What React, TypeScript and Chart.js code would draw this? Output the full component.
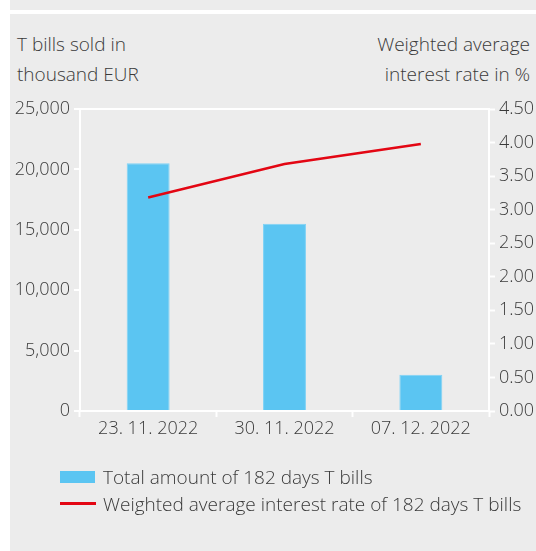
import React, { useEffect, useRef } from "react";
import { Chart, registerables } from "chart.js";

Chart.register(...registerables);

const categories = ["23. 11. 2022", "30. 11. 2022", "07. 12. 2022"];
const amounts = [20500, 15500, 3000];
const rates = [3.18, 3.68, 3.98];
const leftAxisTitle = ["T bills sold in", "thousand EUR"];
const rightAxisTitle = ["Weighted average", "interest rate in %"];
const legendLabels = [
  "Total amount of 182 days T bills",
  "Weighted average interest rate of 182 days T bills",
];

const BAR = "#5bc5f2";
const RED = "#e30613";
const TEXT = "#3a3a3a";
const GRAY = "#ececec";
const FONT = "'Open Sans', 'DejaVu Sans', sans-serif";

export default function App() {
  const ref = useRef<HTMLCanvasElement | null>(null);

  useEffect(() => {
    if (!ref.current) return;
    const font = { family: FONT, size: 18, weight: "300" as any };
    const chart = new Chart(ref.current, {
      type: "bar",
      data: {
        labels: categories,
        datasets: [
          {
            type: "line" as const,
            label: legendLabels[1],
            data: rates,
            yAxisID: "y1",
            borderColor: RED,
            borderWidth: 2.5,
            pointRadius: 0,
            fill: false,
            tension: 0,
            order: 0,
          },
          {
            type: "bar" as const,
            label: legendLabels[0],
            data: amounts,
            yAxisID: "y",
            backgroundColor: BAR,
            borderColor: "#7fd2f5",
            borderWidth: 1,
            barPercentage: 0.315,
            categoryPercentage: 1,
            order: 1,
          },
        ],
      },
      options: {
        responsive: false,
        animation: false,
        maintainAspectRatio: false,
        layout: { padding: { top: 109, left: 0, right: 0, bottom: 0 } },
        plugins: { legend: { display: false }, tooltip: { enabled: false } },
        scales: {
          x: {
            afterFit: (s: any) => {
              s.height = 140;
            },
            grid: {
              offset: true,
              drawOnChartArea: false,
              tickLength: 6,
              tickColor: "#ffffff",
              tickWidth: 2,
              color: "#ffffff",
            },
            border: { color: "#ffffff", width: 2 },
            ticks: { color: TEXT, font, padding: 1, maxRotation: 0 },
          },
          y: {
            position: "left",
            min: 0,
            max: 25000,
            afterFit: (s: any) => {
              s.width = 80;
            },
            grid: {
              drawOnChartArea: true,
              color: (c: any) => (c.tick && c.tick.value === 25000 ? "#ffffff" : "rgba(0,0,0,0)"),
              lineWidth: 2,
              tickLength: 6,
              tickColor: "#ffffff",
              tickWidth: 2,
            },
            border: { color: "#ffffff", width: 2 },
            ticks: {
              stepSize: 5000,
              color: TEXT,
              font,
              padding: 4,
              callback: (v: any) => Number(v).toLocaleString("en-US"),
            },
          },
          y1: {
            position: "right",
            min: 0,
            max: 4.5,
            afterFit: (s: any) => {
              s.width = 47;
            },
            grid: {
              drawOnChartArea: false,
              tickLength: 6,
              tickColor: "#ffffff",
              tickWidth: 2,
            },
            border: { color: "#ffffff", width: 2 },
            ticks: {
              stepSize: 0.5,
              color: TEXT,
              font,
              padding: 4,
              callback: (v: any) => Number(v).toFixed(2),
            },
          },
        },
      },
    });
    return () => chart.destroy();
  }, []);

  const textStyle: React.CSSProperties = {
    position: "absolute",
    fontFamily: FONT,
    fontWeight: 300,
    color: TEXT,
    fontSize: 19,
    lineHeight: "30px",
    whiteSpace: "nowrap",
  };

  return (
    <div
      style={{
        position: "absolute",
        left: 0,
        top: 0,
        width: 536,
        height: 551,
        background: "#ffffff",
        overflow: "hidden",
      }}
    >
      <div style={{ position: "absolute", left: 10, top: 0, width: 526, height: 10, background: GRAY }} />
      <div style={{ position: "absolute", left: 10, top: 14, width: 526, height: 537, background: GRAY }} />
      <div style={{ ...textStyle, left: 17, top: 29 }}>
        {leftAxisTitle[0]}
        <br />
        {leftAxisTitle[1]}
      </div>
      <div style={{ ...textStyle, right: 6, top: 29, textAlign: "right" }}>
        {rightAxisTitle[0]}
        <br />
        {rightAxisTitle[1]}
      </div>
      <canvas
        ref={ref}
        width={536}
        height={551}
        style={{ position: "absolute", left: 0, top: 0, width: 536, height: 551 }}
      />
      <div style={{ position: "absolute", left: 60, top: 471, width: 35, height: 12, background: BAR }} />
      <div style={{ ...textStyle, left: 103, top: 462, lineHeight: "30px" }}>{legendLabels[0]}</div>
      <div style={{ position: "absolute", left: 60, top: 502, width: 36, height: 3, background: RED }} />
      <div style={{ ...textStyle, left: 103, top: 489, lineHeight: "30px" }}>{legendLabels[1]}</div>
    </div>
  );
}
